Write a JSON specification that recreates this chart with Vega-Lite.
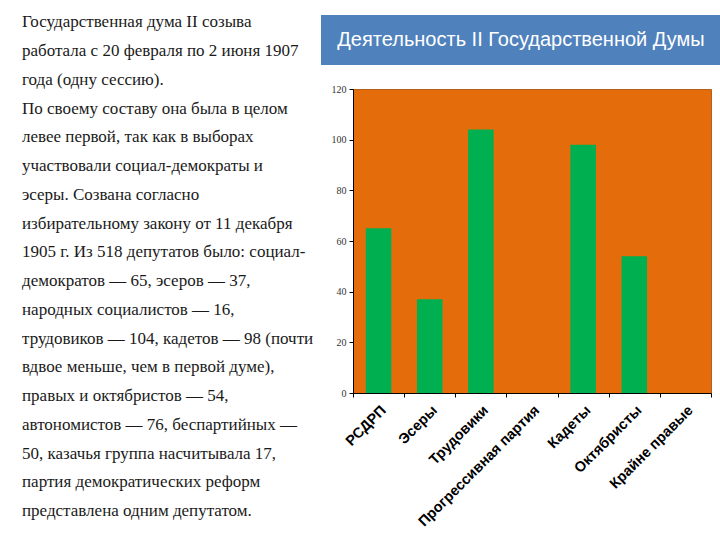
{
  "$schema": "https://vega.github.io/schema/vega-lite/v6.json",
  "background": "white",
  "padding": {"left": 22, "top": 13, "right": 0, "bottom": 0},
  "config": {"view": {"stroke": null}, "concat": {"spacing": 0}},
  "datasets": {
    "text": [
      {"line": 1, "para": 1, "text": "Государственная дума II созыва"},
      {"line": 2, "para": 1, "text": "работала с 20 февраля по 2 июня 1907"},
      {"line": 3, "para": 1, "text": "года (одну сессию)."},
      {"line": 4, "para": 2, "text": "По своему составу она была в целом"},
      {"line": 5, "para": 2, "text": "левее первой, так как в выборах"},
      {"line": 6, "para": 2, "text": "участвовали социал-демократы и"},
      {"line": 7, "para": 2, "text": "эсеры. Созвана согласно"},
      {"line": 8, "para": 2, "text": "избирательному закону от 11 декабря"},
      {"line": 9, "para": 2, "text": "1905 г. Из 518 депутатов было: социал-"},
      {"line": 10, "para": 2, "text": "демократов — 65, эсеров — 37,"},
      {"line": 11, "para": 2, "text": "народных социалистов — 16,"},
      {"line": 12, "para": 2, "text": "трудовиков — 104, кадетов — 98 (почти"},
      {"line": 13, "para": 2, "text": "вдвое меньше, чем в первой думе),"},
      {"line": 14, "para": 2, "text": "правых и октябристов — 54,"},
      {"line": 15, "para": 2, "text": "автономистов — 76, беспартийных —"},
      {"line": 16, "para": 2, "text": "50, казачья группа насчитывала 17,"},
      {"line": 17, "para": 2, "text": "партия демократических реформ"},
      {"line": 18, "para": 2, "text": "представлена одним депутатом."}
    ],
    "title": [{"t": "Деятельность II Государственной Думы"}],
    "duma": [
      {"party": "РСДРП", "deputies": 65},
      {"party": "Эсеры", "deputies": 37},
      {"party": "Трудовики", "deputies": 104},
      {"party": "Прогрессивная партия", "deputies": 0},
      {"party": "Кадеты", "deputies": 98},
      {"party": "Октябристы", "deputies": 54},
      {"party": "Крайне правые", "deputies": 0}
    ]
  },
  "hconcat": [
    {
      "width": 299,
      "height": 525,
      "data": {"name": "text"},
      "mark": {"type": "text", "align": "left", "baseline": "alphabetic", "font": "Liberation Serif", "fontSize": 17, "color": "#1a1a1a"},
      "encoding": {
        "x": {"value": 0},
        "y": {"field": "line", "type": "quantitative", "scale": {"domain": [1, 18], "range": [12.3, 501.1]}, "axis": null},
        "yOffset": {"field": "para", "type": "quantitative", "scale": {"domain": [1, 2], "range": [0, 4.4]}},
        "text": {"field": "text"}
      }
    },
    {
      "spacing": 24,
      "bounds": "flush",
      "center": true,
      "vconcat": [
        {
          "width": 422,
          "height": 50,
          "data": {"name": "title"},
          "view": {"fill": "#4F81BD", "stroke": null},
          "mark": {"type": "text", "font": "Liberation Sans", "fontSize": 20, "color": "white", "baseline": "middle", "dx": -11},
          "encoding": {"text": {"field": "t"}}
        },
        {
          "width": 358,
          "height": 304,
          "data": {"name": "duma"},
          "view": {"fill": "#E46C0A", "stroke": "#b3621e", "strokeWidth": 1},
          "mark": {"type": "bar", "color": "#00B050", "width": {"band": 0.5}},
          "encoding": {
            "x": {
              "field": "party", "type": "nominal", "sort": null,
              "scale": {"paddingInner": 0, "paddingOuter": 0},
              "axis": {"title": null, "labelAngle": -45, "labelAlign": "right", "labelFont": "Liberation Sans", "labelFontWeight": "bold", "labelFontSize": 14.5, "labelColor": "black", "tickBand": "extent", "tickColor": "black", "domainColor": "black", "tickSize": 4, "labelPadding": 6}
            },
            "y": {
              "field": "deputies", "type": "quantitative",
              "scale": {"domain": [0, 120]},
              "axis": {"title": null, "values": [0, 20, 40, 60, 80, 100, 120], "grid": false, "labelFont": "Liberation Serif", "labelFontSize": 10, "labelColor": "#333333", "tickSize": 4, "tickColor": "black", "domainColor": "black", "labelPadding": 3}
            }
          }
        }
      ]
    }
  ]
}
